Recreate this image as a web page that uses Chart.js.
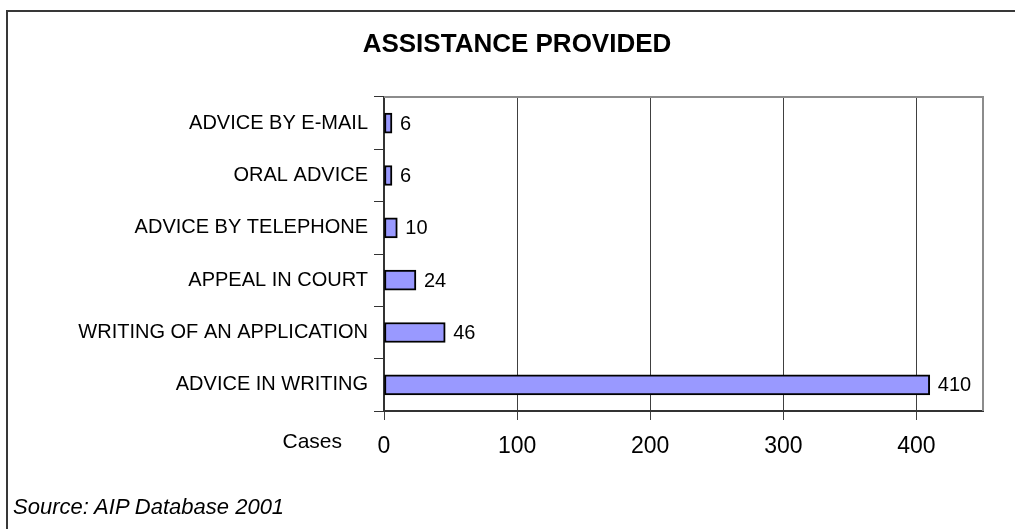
<!DOCTYPE html>
<html>
<head>
<meta charset="utf-8">
<script src="https://cdn.jsdelivr.net/npm/chart.js@4"></script>
<style>
  body { margin: 0; background: #fff; font-family: "Liberation Sans", Arial, sans-serif; }
  #wrap { position: relative; width: 1015px; height: 529px; overflow: hidden; background: #fff; }
  #frame { position: absolute; left: 6px; top: 10px; width: 1100px; height: 600px;
           border-top: 2px solid #383838; border-left: 2px solid #383838; }
  canvas { position: absolute; left: 0; top: 0; }
  .txt { position: absolute; white-space: nowrap; color: #000; }
  #title { left: 0; width: 1034px; top: 30px; text-align: center; font-weight: bold;
           font-size: 26px; line-height: 26px; }
  #cases { left: 0; width: 342px; top: 430px; text-align: right; font-size: 21px; line-height: 21px; }
  #source { left: 13px; top: 496px; font-style: italic; font-size: 22px; line-height: 22px; }
</style>
</head>
<body>
<div id="wrap">
  <div id="frame"></div>
  <canvas id="chartAssist" width="1015" height="529"></canvas>
  <div class="txt" id="title">ASSISTANCE PROVIDED</div>
  <div class="txt" id="cases">Cases</div>
  <div class="txt" id="source">Source: AIP Database 2001</div>
</div>
<script>
const categories = [
  'ADVICE BY E-MAIL',
  'ORAL ADVICE',
  'ADVICE BY TELEPHONE',
  'APPEAL IN COURT',
  'WRITING OF AN APPLICATION',
  'ADVICE IN WRITING',
];
const cases = [6, 6, 10, 24, 46, 410];
const xTicks = [0, 100, 200, 300, 400];
const xMax = 450;

const FONT = '"Liberation Sans", Arial, sans-serif';

// value next to the end of each bar
const valueLabels = {
  id: 'valueLabels',
  afterDatasetsDraw(chart) {
    const ctx = chart.ctx;
    const meta = chart.getDatasetMeta(0);
    ctx.save();
    ctx.font = '20px ' + FONT;
    ctx.fillStyle = '#000';
    ctx.textBaseline = 'middle';
    meta.data.forEach(function (bar, i) {
      ctx.fillText(String(cases[i]), bar.x + 8, bar.y + 1);
    });
    ctx.restore();
  },
};

// grey top and right edge of the plot area
const plotFrame = {
  id: 'plotFrame',
  beforeDatasetsDraw(chart) {
    const a = chart.chartArea;
    const ctx = chart.ctx;
    ctx.save();
    ctx.strokeStyle = '#8c8c8c';
    ctx.lineWidth = 2;
    ctx.beginPath();
    ctx.moveTo(a.left, a.top);
    ctx.lineTo(a.right, a.top);
    ctx.lineTo(a.right, a.bottom);
    ctx.stroke();
    ctx.restore();
  },
};

const dataAssist = {
  labels: categories,
  datasets: [
    {
      data: cases,
      backgroundColor: '#9999ff',
      borderColor: '#000',
      borderWidth: 2,
      borderSkipped: false,
      barThickness: 20,
    },
  ],
};

const configAssist = {
  type: 'bar',
  data: dataAssist,
  options: {
    indexAxis: 'y',
    responsive: false,
    animation: false,
    devicePixelRatio: 1,
    layout: { padding: { top: 97, right: 32, left: 0, bottom: 0 } },
    plugins: {
      legend: { display: false },
      tooltip: { enabled: false },
    },
    scales: {
      x: {
        min: 0,
        max: xMax,
        afterBuildTicks: function (scale) {
          scale.ticks = xTicks.map(function (v) { return { value: v }; });
        },
        afterFit: function (scale) {
          scale.height = 529 - 411;
        },
        grid: { color: '#404040', lineWidth: 1, tickLength: 9, tickColor: '#404040' },
        border: { color: '#333', width: 2 },
        ticks: { color: '#000', font: { family: FONT, size: 23 }, padding: 13, maxRotation: 0 },
      },
      y: {
        afterFit: function (scale) {
          scale.width = 384;
        },
        grid: { drawOnChartArea: false, tickLength: 10, color: '#333', offset: true },
        border: { color: '#333', width: 2 },
        ticks: { color: '#000', font: { family: FONT, size: 20 }, padding: 6 },
      },
    },
  },
  plugins: [plotFrame, valueLabels],
};

var chartAssist = new Chart(document.getElementById('chartAssist'), configAssist);
</script>
</body>
</html>
